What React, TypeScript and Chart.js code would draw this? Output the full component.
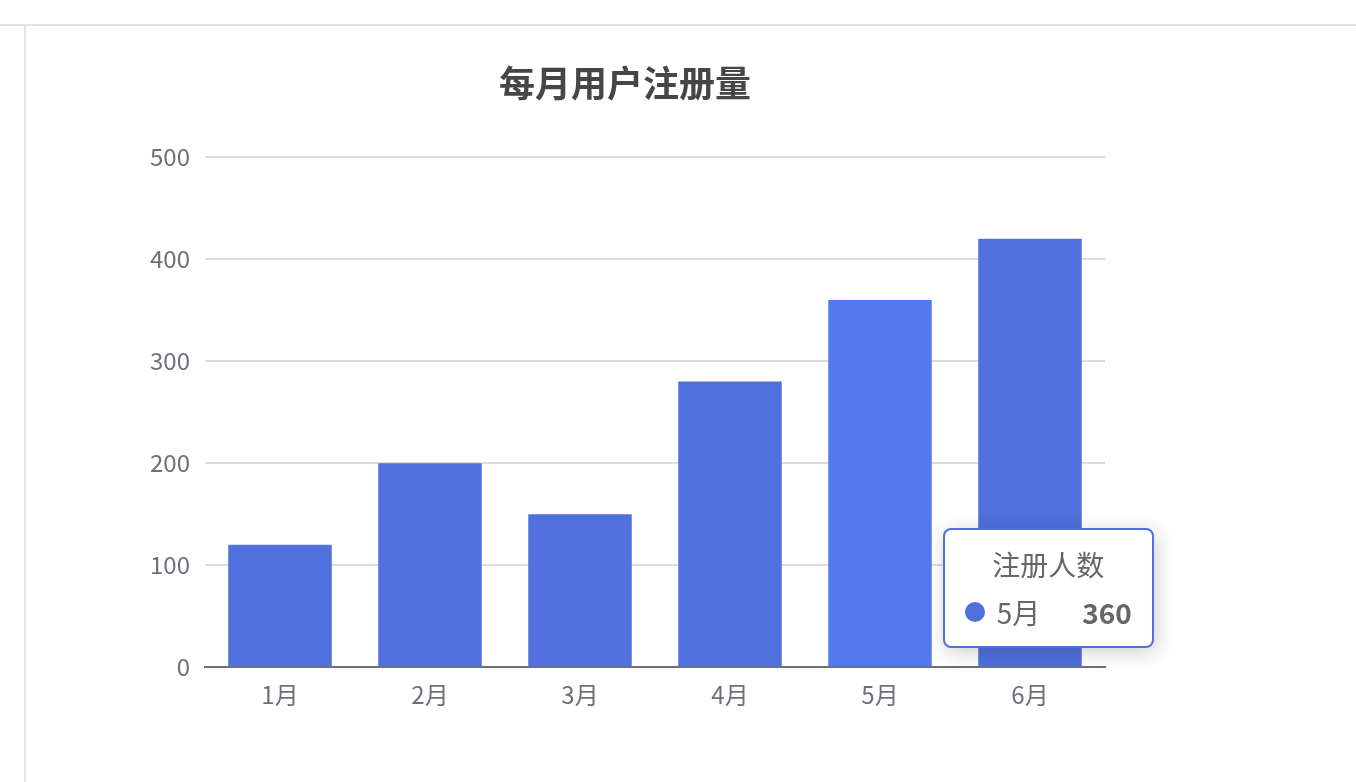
import React, { useEffect, useRef } from 'react';
import { Chart, registerables } from 'chart.js';

Chart.register(...registerables);

const chartTitle = '每月用户注册量';
const seriesName = '注册人数';
const months = ['1月', '2月', '3月', '4月', '5月', '6月'];
const registrations = [120, 200, 150, 280, 360, 420];
const yTicks = [0, 100, 200, 300, 400, 500];
const highlightedIndex = 4;

const FONT = '"Noto Sans CJK SC", "Noto Sans", sans-serif';
const BAR = '#5070dd';
const BAR_HOVER = '#5479ee';
const AXIS = '#6e7079';
const GRID = '#dcdde2';

export default function App() {
  const canvasRef = useRef<HTMLCanvasElement>(null);
  const tipRef = useRef<HTMLDivElement>(null);
  const tipTitleRef = useRef<HTMLDivElement>(null);
  const tipNameRef = useRef<HTMLSpanElement>(null);
  const tipValueRef = useRef<HTMLSpanElement>(null);

  useEffect(() => {
    const canvas = canvasRef.current!;
    const external = (context: any) => {
      const { tooltip } = context;
      const el = tipRef.current;
      if (!el) return;
      if (!tooltip || tooltip.opacity === 0 || !tooltip.dataPoints || !tooltip.dataPoints.length) {
        el.style.opacity = '0';
        return;
      }
      const dp = tooltip.dataPoints[0];
      const bar = dp.element as any;
      if (tipTitleRef.current) tipTitleRef.current.textContent = dp.dataset.label;
      if (tipNameRef.current) tipNameRef.current.textContent = String(dp.label);
      if (tipValueRef.current) tipValueRef.current.textContent = String(dp.raw);
      el.style.opacity = '1';
      el.style.left = canvas.offsetLeft + bar.x + bar.width / 2 + 11 + 'px';
      el.style.top = canvas.offsetTop + bar.y + 228 + 'px';
    };

    const chart = new Chart(canvas, {
      type: 'bar',
      data: {
        labels: months,
        datasets: [
          {
            label: seriesName,
            data: registrations,
            backgroundColor: BAR,
            hoverBackgroundColor: BAR_HOVER,
            borderWidth: 0,
            hoverBorderWidth: 0,
            barPercentage: 0.69,
            categoryPercentage: 1,
          },
        ],
      },
      options: {
        responsive: false,
        animation: false,
        devicePixelRatio: 1,
        events: [],
        layout: { padding: { left: 119, right: 121, top: 0, bottom: 60 } },
        plugins: {
          legend: { display: false },
          title: {
            display: true,
            text: chartTitle,
            color: '#464646',
            font: { family: FONT, size: 36, weight: 'bold' },
            padding: { top: 36, bottom: 52 },
          },
          tooltip: { enabled: false, external },
        },
        scales: {
          x: {
            grid: { display: false, drawTicks: false },
            border: { display: true, color: AXIS, width: 2 },
            ticks: { color: AXIS, font: { family: FONT, size: 24 }, padding: 13 },
          },
          y: {
            min: 0,
            max: 500,
            afterBuildTicks: (s: any) => {
              s.ticks = yTicks.map((v) => ({ value: v }));
            },
            afterFit: (s: any) => {
              s.width = 60;
            },
            grid: {
              color: (ctx: any) => (ctx.tick && ctx.tick.value === 0 ? AXIS : GRID),
              lineWidth: 2,
              drawTicks: false,
            },
            border: { display: false },
            ticks: { color: AXIS, font: { family: FONT, size: 24 }, padding: 15 },
          },
        },
      } as any,
    });

    const active = [{ datasetIndex: 0, index: highlightedIndex }];
    chart.setActiveElements(active);
    chart.tooltip!.setActiveElements(active, { x: 0, y: 0 });
    chart.update();

    return () => chart.destroy();
  }, []);

  return (
    <div style={{ position: 'fixed', inset: 0, background: '#fff', overflow: 'hidden' }}>
      <div style={{ position: 'absolute', left: 0, top: 24, width: '100%', height: 2, background: '#e4e4e4' }} />
      <div style={{ position: 'absolute', left: 24, top: 24, width: 2, bottom: 0, background: '#e4e4e4' }} />
      <canvas
        ref={canvasRef}
        width={1200}
        height={756}
        style={{ position: 'absolute', left: 26, top: 26, width: 1200, height: 756 }}
      />
      <div
        ref={tipRef}
        style={{
          position: 'absolute',
          opacity: 0,
          boxSizing: 'border-box',
          width: 211,
          background: '#fff',
          border: '2px solid ' + BAR,
          borderRadius: 8,
          boxShadow: 'rgba(0,0,0,0.2) 2px 4px 20px',
          padding: 20,
          fontFamily: FONT,
          fontSize: 28,
          lineHeight: '28px',
          color: '#666',
        }}
      >
        <div ref={tipTitleRef} style={{ textAlign: 'center' }} />
        <div style={{ display: 'flex', alignItems: 'center', marginTop: 20 }}>
          <span
            style={{
              display: 'inline-block',
              width: 20,
              height: 20,
              borderRadius: 10,
              background: BAR,
              marginRight: 12,
            }}
          />
          <span ref={tipNameRef} />
          <span ref={tipValueRef} style={{ marginLeft: 'auto', fontWeight: 'bold', color: '#666' }} />
        </div>
      </div>
    </div>
  );
}
